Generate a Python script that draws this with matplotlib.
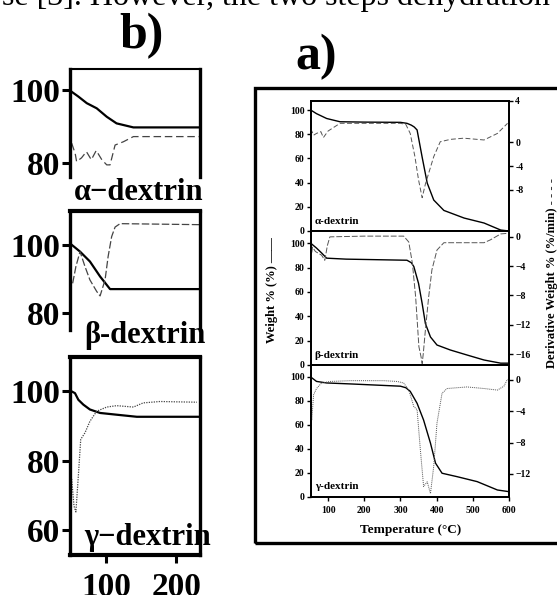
import matplotlib.pyplot as plt
from matplotlib.patches import Rectangle

plt.rcParams['font.family'] = ['Liberation Serif', 'DejaVu Serif']
plt.rcParams['font.weight'] = 'bold'

# ---- panel a) : full TGA / DTG curves (temperature in C) ----
a_alpha_T = [52, 68, 96, 133, 200, 300, 318, 330, 338, 346, 360, 374, 392, 420, 476, 531, 577, 600]
a_alpha_w = [100, 97, 93, 90.3, 90, 89.8, 89, 87.5, 86, 83.5, 61, 39.6, 25.6, 17, 10.7, 6.6, 0.8, 0]
a_alpha_dT = [52, 60, 68, 80, 87, 100, 133, 300, 315, 327, 340, 350, 360, 369, 378, 392, 410, 438, 475, 531, 568, 596]
a_alpha_d = [2.3, 1.2, 1.5, 1.8, 0.8, 1.9, 3.2, 3.2, 3.0, 1.5, -2.4, -6.3, -9.3, -7.0, -5.2, -2.4, 0.1, 0.5, 0.7, 0.4, 1.5, 3.2]

a_beta_T = [52, 68, 82, 96, 150, 318, 330, 337, 350, 360, 369, 383, 401, 438, 484, 531, 577, 600]
a_beta_w = [100, 96, 92, 87.7, 86.9, 86, 84, 80.8, 67, 50.5, 34, 23, 16.4, 12.3, 8.2, 4.1, 1.5, 1.5]
a_beta_dT = [52, 57, 65, 82, 91, 98, 105, 200, 309, 323, 333, 342, 351, 357, 360, 363, 369, 378, 387, 401, 420, 484, 531, 549, 577, 600]
a_beta_d = [-3.2, -1.4, -2.0, -2.5, -3.2, -1.2, 0.0, 0.1, 0.1, -0.7, -3.6, -8.2, -15, -16.4, -17.3, -16.0, -12.7, -8.2, -4.5, -1.8, -0.8, -0.8, -0.8, -0.4, 0.4, 0.5]

a_gamma_T = [52, 68, 96, 161, 300, 315, 327, 346, 364, 383, 397, 415, 457, 512, 568, 600]
a_gamma_w = [100, 96.3, 95, 94.2, 92.3, 91, 88, 78, 64, 44.7, 28, 19.6, 16.7, 12.6, 5.6, 4.2]
a_gamma_dT = [52, 55, 60, 68, 82, 105, 161, 254, 291, 309, 323, 337, 346, 355, 364, 374, 383, 392, 401, 415, 429, 484, 531, 568, 586, 596]
a_gamma_d = [-3.8, -5.1, -1.9, -1.1, -0.4, -0.2, -0.1, -0.1, -0.2, -0.4, -1.3, -3.4, -3.8, -8.9, -13.6, -13.0, -14.5, -11.0, -5.5, -1.7, -1.1, -0.9, -1.1, -1.3, -0.8, 0.1]

# ---- panel b) : zoom on the low temperature region ----
b_alpha_T = [51, 60.5, 72.5, 86.7, 101, 115, 139, 235]
b_alpha_w = [99.5, 98.2, 96.4, 95, 92.7, 90.9, 89.8, 89.8]
b_alpha_dT = [51, 56, 58, 65, 72, 79, 86, 94, 101, 105.7, 112.9, 124.8, 139, 235]
b_alpha_d = [85.5, 82.7, 80.5, 81.5, 83.2, 81, 83.5, 81, 79.6, 79.6, 85, 85.9, 87.3, 87.3]

b_beta_T = [51, 62.9, 77, 91.5, 105.7, 235]
b_beta_w = [100, 98, 95.1, 90.7, 87, 87]
b_beta_dT = [52.4, 57, 62.9, 70, 77, 86.7, 91.5, 98.6, 103, 108, 112.9, 120, 235]
b_beta_d = [88.7, 93.6, 98, 93.6, 89.7, 86.3, 85, 89.7, 96.6, 102.4, 105.2, 106.2, 105.9]

b_gamma_T = [51, 55.7, 60.5, 67.6, 77, 91.5, 115, 143.9, 235]
b_gamma_w = [100, 99.5, 97.6, 96.2, 94.8, 93.8, 93.3, 92.7, 92.7]
b_gamma_dT = [51, 54.3, 57, 60.5, 63.9, 70, 77, 86.7, 101, 115, 139, 153, 177, 201, 229.6]
b_gamma_d = [74.8, 67, 65.3, 75.7, 86.2, 88.1, 91.4, 94.3, 95.5, 95.9, 95.5, 96.7, 97.1, 97.0, 96.9]

W, H = 557, 595
fig = plt.figure(figsize=(W / 100, H / 100), dpi=100)


def box(x0, y0, x1, y1):
    # pixel box (top-left origin) -> figure fraction rect
    return [x0 / W, 1 - y1 / H, (x1 - x0) / W, (y1 - y0) / H]


# cut-off line of text from the page above
fig.text(2 / W, 1 - 5 / H, 'se [3]. However, the two steps dehydration', fontsize=23,
         fontweight='normal', va='baseline', ha='left')

# ================= panel b =================
fig.text(142 / W, 1 - 36 / H, 'b)', fontsize=36, ha='center', va='center')

b_sets = [
    (box(70, 69, 200, 177), (76.3, 105.7), [80, 100], b_alpha_T, b_alpha_w, b_alpha_dT, b_alpha_d, (6, 3), 1.5),
    (box(70, 210.7, 200, 330), (75, 110), [80, 100], b_beta_T, b_beta_w, b_beta_dT, b_beta_d, (6, 2), 3),
    (box(70, 356.7, 200, 555), (52.9, 110), [60, 80, 100], b_gamma_T, b_gamma_w, b_gamma_dT, b_gamma_d, (1, 1), 3),
]
for i, (rect, yl, yt, T, w, dT, d, dash, toplw) in enumerate(b_sets):
    ax = fig.add_axes(rect)
    ax.plot(T, w, color='black', lw=1.6)
    ax.plot(dT, d, color='#444444', lw=0.9, dashes=dash)
    ax.set_xlim(48.6, 234)
    ax.set_ylim(*yl)
    ax.set_yticks(yt)
    ax.tick_params(axis='y', length=6, width=2.2, labelsize=24, pad=1)
    for s in ['left', 'right']:
        ax.spines[s].set_linewidth(2.4)
    ax.spines['top'].set_linewidth(toplw)
    if i < 2:
        ax.spines['bottom'].set_visible(False)
        ax.set_xticks([])
    else:
        ax.spines['bottom'].set_linewidth(3)
        ax.set_xticks([100, 200])
        ax.tick_params(axis='x', length=6, width=2.2, labelsize=24, pad=6)

fig.text(139 / W, 1 - 200 / H, 'α−dextrin', fontsize=22, ha='center', va='baseline')
fig.text(145 / W, 1 - 343 / H, 'β-dextrin', fontsize=22, ha='center', va='baseline')
fig.text(148 / W, 1 - 545 / H, 'γ−dextrin', fontsize=22, ha='center', va='baseline')

# ================= panel a =================
fig.text(316 / W, 1 - 57 / H, 'a)', fontsize=36, ha='center', va='center')
fig.patches.append(Rectangle((255 / W, 1 - 543 / H), 320 / W, 455 / H, transform=fig.transFigure,
                             fill=False, lw=2.4, edgecolor='black', clip_on=False))

a_sets = [
    (box(310.7, 100.7, 509, 231), (0, 107.7), (-14.9, 7.0), [0, -4, -8], 'α-dextrin',
     a_alpha_T, a_alpha_w, a_alpha_dT, a_alpha_d, (5, 2.5)),
    (box(310.7, 231, 509, 365), (0, 110), (-17.5, 0.8), [0, -4, -8, -12, -16], 'β-dextrin',
     a_beta_T, a_beta_w, a_beta_dT, a_beta_d, (6, 2)),
    (box(310.7, 365, 509, 496.7), (0, 110), (-14.9, 1.9), [0, -4, -8, -12], 'γ-dextrin',
     a_gamma_T, a_gamma_w, a_gamma_dT, a_gamma_d, (1, 1)),
]
for i, (rect, yl, yl2, yt2, name, T, w, dT, d, dash) in enumerate(a_sets):
    ax = fig.add_axes(rect)
    ax2 = ax.twinx()
    ax.plot(T, w, color='black', lw=1.0)
    ax2.plot(dT, d, color='#555555', lw=0.7, dashes=dash)
    ax.set_xlim(52, 600)
    ax.set_ylim(*yl)
    ax.set_yticks([0, 20, 40, 60, 80, 100])
    ax2.set_ylim(*yl2)
    if i == 0:
        ax2.set_yticks([7.0] + yt2)
        ax2.set_yticklabels(['4'] + [str(v) for v in yt2])
    else:
        ax2.set_yticks(yt2)
    for a in (ax, ax2):
        a.tick_params(length=3, width=1, labelsize=7, pad=1.5)
        for s in a.spines.values():
            s.set_linewidth(1.3)
    if i < 2:
        ax.set_xticks([])
    else:
        ax.set_xticks([100, 200, 300, 400, 500, 600])
        ax.tick_params(axis='x', pad=4)
    ax.text(0.02, 0.04, name, transform=ax.transAxes, fontsize=8, va='bottom', ha='left')

fig.text(272 / W, 1 - 290 / H, 'Weight % (%) ——', rotation=90, fontsize=9, ha='center', va='center')
fig.text(552 / W, 1 - 273 / H, 'Derivative Weight % (%/min) - - - -', rotation=90, fontsize=9,
         ha='center', va='center')
fig.text(411 / W, 1 - 530 / H, 'Temperature (°C)', fontsize=9.5, ha='center', va='center')

fig.savefig('out.png', dpi=100)
